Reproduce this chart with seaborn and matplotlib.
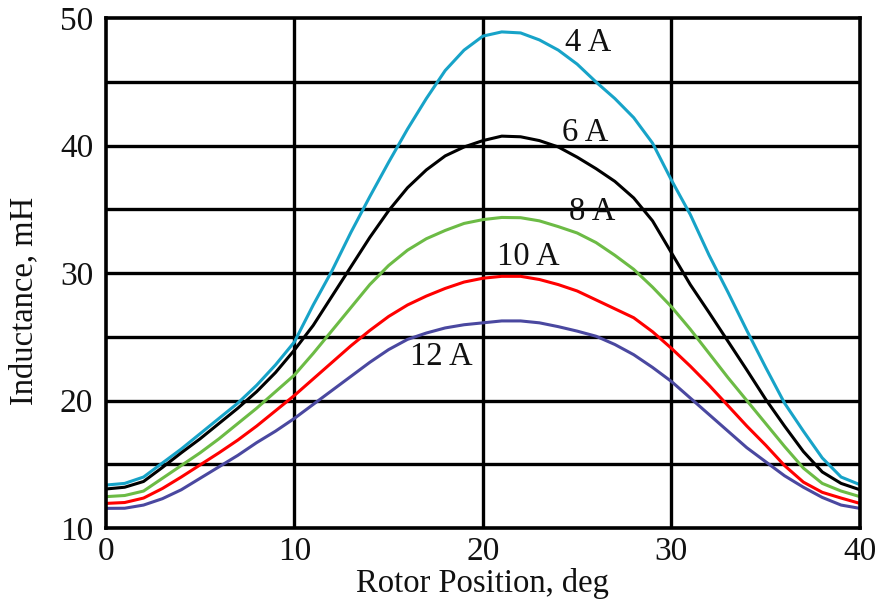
import numpy as np
import pandas as pd
import matplotlib
matplotlib.use("Agg")
import matplotlib.pyplot as plt
import seaborn as sns

# Rotor position samples (deg)
position = list(range(0, 41))

# Phase inductance (mH) at each excitation current
ind_4A = [13.37, 13.5, 14.0, 15.1, 16.2, 17.4, 18.6, 19.8, 21.2, 22.8,
          24.6, 27.5, 30.2, 33.2, 36.0, 38.7, 41.3, 43.7, 45.9, 47.5,
          48.6, 48.93, 48.85, 48.3, 47.5, 46.4, 45.0, 43.7, 42.2, 40.2,
          37.3, 34.6, 31.4, 28.5, 25.5, 22.6, 19.8, 17.6, 15.5, 14.0, 13.4]
ind_6A = [13.06, 13.2, 13.65, 14.75, 15.9, 17.0, 18.2, 19.4, 20.7, 22.2,
          23.96, 25.9, 28.2, 30.5, 32.8, 34.9, 36.7, 38.1, 39.2, 39.9,
          40.4, 40.75, 40.7, 40.4, 39.9, 39.1, 38.2, 37.2, 35.9, 34.1,
          31.6, 29.1, 26.9, 24.65, 22.4, 20.1, 18.0, 16.0, 14.4, 13.5, 13.0]
ind_8A = [12.46, 12.55, 12.9, 13.9, 14.9, 15.9, 17.0, 18.2, 19.4, 20.7,
          22.0, 23.7, 25.5, 27.3, 29.1, 30.6, 31.8, 32.7, 33.35, 33.9,
          34.2, 34.37, 34.35, 34.1, 33.65, 33.15, 32.4, 31.4, 30.3, 28.9,
          27.36, 25.6, 23.7, 21.8, 20.0, 18.2, 16.4, 14.7, 13.5, 12.9, 12.46]
ind_10A = [11.93, 12.0, 12.35, 13.1, 14.0, 14.95, 15.9, 16.9, 18.0, 19.2,
           20.4, 21.7, 23.0, 24.3, 25.5, 26.6, 27.5, 28.2, 28.8, 29.3,
           29.6, 29.75, 29.75, 29.5, 29.1, 28.6, 27.9, 27.2, 26.5, 25.4,
           24.1, 22.7, 21.2, 19.6, 18.0, 16.5, 14.9, 13.6, 12.8, 12.35, 11.93]
ind_12A = [11.54, 11.55, 11.8, 12.3, 13.0, 13.9, 14.8, 15.7, 16.7, 17.6,
           18.6, 19.7, 20.8, 21.9, 23.0, 24.0, 24.8, 25.3, 25.7, 25.95,
           26.1, 26.25, 26.25, 26.1, 25.8, 25.45, 25.05, 24.4, 23.6, 22.6,
           21.5, 20.2, 18.9, 17.6, 16.3, 15.2, 14.1, 13.2, 12.4, 11.8, 11.54]

currents = ["4 A", "6 A", "8 A", "10 A", "12 A"]
colors = ["#17a3c8", "#000000", "#6cbb45", "#ff0000", "#4a48a0"]
label_x = [25.6, 25.4, 25.8, 22.4, 17.8]
label_y = [48.1, 41.0, 34.8, 31.25, 23.4]

x_ticks = [0, 10, 20, 30, 40]
y_ticks = [10, 20, 30, 40, 50]
y_grid = [15, 20, 25, 30, 35, 40, 45]
x_grid = [10, 20, 30]

df = pd.DataFrame({
    "Rotor Position, deg": position * 5,
    "Inductance, mH": ind_4A + ind_6A + ind_8A + ind_10A + ind_12A,
    "Current": [c for c in currents for _ in position],
})

sns.set_theme(style="white")
plt.rcParams["font.family"] = ["Liberation Serif", "DejaVu Serif"]

fig = plt.figure(figsize=(8.82, 6.09), dpi=100)
ax = fig.add_axes([0.120, 0.133, 0.855, 0.837])

for g in y_grid:
    ax.axhline(g, color="black", lw=2.4, zorder=1)
for g in x_grid:
    ax.axvline(g, color="black", lw=2.4, zorder=1)

sns.lineplot(data=df, x="Rotor Position, deg", y="Inductance, mH",
             hue="Current", hue_order=currents,
             palette=dict(zip(currents, colors)),
             linewidth=2.2, legend=False, ax=ax, zorder=3)

for txt, lx, ly in zip(currents, label_x, label_y):
    ax.text(lx, ly, txt, ha="center", va="center", fontsize=23.5,
            color="#111111", zorder=4)

ax.set_xlim(0, 40)
ax.set_ylim(10, 50)
ax.set_xticks(x_ticks)
ax.set_yticks(y_ticks)
ax.tick_params(axis="x", length=0, labelsize=24, pad=6, colors="#111111")
ax.tick_params(axis="y", length=0, labelsize=24, pad=9, colors="#111111")
ax.set_xlabel("Rotor Position, deg", fontsize=23.5, labelpad=1, color="#111111")
ax.set_ylabel("Inductance, mH", fontsize=23.5, color="#111111")
ax.yaxis.set_label_coords(-0.088, 0.445)
for s in ax.spines.values():
    s.set_visible(True)
    s.set_color("black")
    s.set_linewidth(2.6)
    s.set_zorder(5)

fig.savefig("out.png", dpi=100, facecolor="white")
